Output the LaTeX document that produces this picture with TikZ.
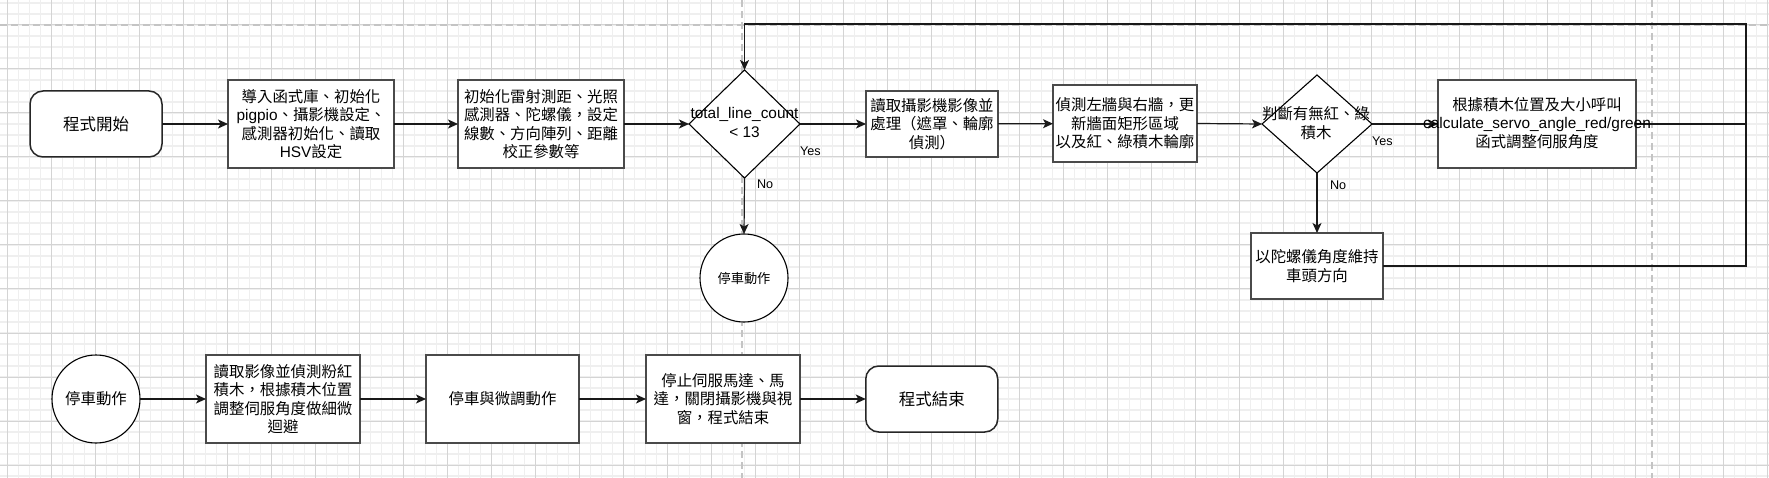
\documentclass[tikz,border=0pt]{standalone}
\usepackage{fontspec}
\setmainfont{Liberation Sans}
\newfontfamily\cjk{Noto Sans CJK TC}
\usetikzlibrary{shapes.geometric,arrows.meta}
\definecolor{gridminor}{HTML}{EFEFEF}
\definecolor{gridmajor}{HTML}{D4D4D4}
\definecolor{pagebreak}{HTML}{C4C4C4}
\definecolor{boxline}{HTML}{4A4A4A}
\tikzset{
  txt/.style={font=\fontsize{15.4}{18.5}\selectfont, align=center, inner sep=0pt, outer sep=0pt, text=black},
  bigtxt/.style={font=\fontsize{16.5}{19.8}\selectfont},
  smalltxt/.style={font=\fontsize{13.2}{15.8}\selectfont},
  procbox/.style={rectangle, draw=boxline, line width=1.5pt, fill=white, txt},
  termbox/.style={procbox, draw=black!85, rounded corners=13pt, bigtxt},
  decision/.style={diamond, draw=black, line width=1.1pt, fill=white, inner sep=0pt, outer sep=0pt},
  stopcircle/.style={circle, draw=black, line width=1.1pt, fill=white, minimum size=88pt, txt},
  flow/.style={draw=black!90, line width=1.2pt, -{Stealth[length=10pt,width=9pt,inset=2.5pt]}},
  plainflow/.style={draw=black!90, line width=1.2pt},
  lbl/.style={font=\fontsize{12.6}{15}\selectfont, inner sep=0pt, outer sep=0pt, anchor=west},
  gminor/.style={draw=gridminor, line width=1.2pt},
  gmajor/.style={draw=gridmajor, line width=1pt},
  pbreak/.style={draw=pagebreak, line width=2pt, dash pattern=on 7pt off 4pt},
}
\begin{document}
\begin{tikzpicture}[x=1pt,y=-1pt]
\fill[white] (0,0) rectangle (1769,478);
\useasboundingbox (0,0) rectangle (1769,478);
% grid
\foreach \i in {0,...,160} \draw[gminor] ({7.3+11*\i},0) -- ++(0,478);
\foreach \j in {0,...,43} \draw[gminor] (0,{3+11*\j}) -- ++(1769,0);
\foreach \i in {0,...,40} \draw[gmajor] ({7.3+44*\i},0) -- ++(0,478);
\foreach \j in {0,...,10} \draw[gmajor] (0,{25+44*\j}) -- ++(1769,0);
% page breaks
\draw[pbreak] (742,0) -- (742,478);
\draw[pbreak] (1652,0) -- (1652,478);
\draw[pbreak] (0,25) -- (1769,25);

% top row
\node[termbox, minimum width=132pt, minimum height=66pt] (b1) at (96,124) {\cjk 程式開始};
\node[procbox, minimum width=166pt, minimum height=88pt] (b2) at (311,124)
  {{\cjk 導入函式庫、初始化}\\pigpio{\cjk 、攝影機設定、}\\{\cjk 感測器初始化、讀取}\\HSV{\cjk 設定}};
\node[procbox, minimum width=166pt, minimum height=88pt] (b3) at (541,124)
  {{\cjk 初始化雷射測距、光照}\\{\cjk 感測器、陀螺儀，設定}\\{\cjk 線數、方向陣列、距離}\\{\cjk 校正參數等}};
\node[decision, minimum width=111pt, minimum height=108pt] (d1) at (744.5,124) {};
\node[procbox, minimum width=132pt, minimum height=66pt] (b5) at (932,124)
  {{\cjk 讀取攝影機影像並}\\{\cjk 處理（遮罩、輪廓}\\{\cjk 偵測）}};
\node[procbox, minimum width=144pt, minimum height=77pt] (b6) at (1125,123.5)
  {{\cjk 偵測左牆與右牆，更}\\{\cjk 新牆面矩形區域}\\{\cjk 以及紅、綠積木輪廓}};
\node[decision, minimum width=110pt, minimum height=98pt] (d2) at (1317,124) {};
\node[procbox, minimum width=198pt, minimum height=88pt] (b8) at (1537,124) {};
\node[procbox, minimum width=132pt, minimum height=66pt] (b9) at (1317,266)
  {{\cjk 以陀螺儀角度維持}\\{\cjk 車頭方向}};
\node[stopcircle, smalltxt] (c1) at (744,278) {\cjk 停車動作};

% bottom row
\node[stopcircle] (c2) at (96,399) {\cjk 停車動作};
\node[procbox, minimum width=154pt, minimum height=88pt] (b13) at (283,399)
  {{\cjk 讀取影像並偵測粉紅}\\{\cjk 積木，根據積木位置}\\{\cjk 調整伺服角度做細微}\\{\cjk 迴避}};
\node[procbox, minimum width=153pt, minimum height=88pt] (b14) at (502.5,399) {\cjk 停車與微調動作};
\node[procbox, minimum width=154pt, minimum height=88pt] (b15) at (723,399)
  {{\cjk 停止伺服馬達、馬}\\{\cjk 達，關閉攝影機與視}\\{\cjk 窗，程式結束}};
\node[termbox, minimum width=132pt, minimum height=66pt] (b16) at (931.75,399) {\cjk 程式結束};

% connectors
\coordinate (loopTR) at (1746,24);
\draw[flow] (b1) -- (b2);
\draw[flow] (b2) -- (b3);
\draw[flow] (b3.east) -- (d1.west);
\draw[flow] (d1.east) -- (b5.west);
\draw[flow] (b5) -- (b6);
\draw[flow] (b6.east) -- (d2.west);
\draw[flow] (d2.east) -- (b8.west);
\draw[flow] (d2.south) -- (b9.north);
\draw[flow] (d1.south) -- (c1.north);
\draw[flow] (b8.east) -| (loopTR) -- (loopTR -| d1.north) -- (d1.north);
\draw[plainflow] (b9.east) -| (b8.east -| loopTR);
\draw[flow] (c2) -- (b13);
\draw[flow] (b13) -- (b14);
\draw[flow] (b14) -- (b15);
\draw[flow] (b15) -- (b16);

% texts over shapes
\node[txt] (d1t) at (744.5,122.5) {total\_line\_count\\< 13};
\node[txt] (d2t) at (1316,123) {{\cjk 判斷有無紅、綠}\\{\cjk 積木}};
\node[txt] (b8t) at (1537,123) {{\cjk 根據積木位置及大小呼叫}\\calculate\_servo\_angle\_red/green\\{\cjk 函式調整伺服角度}};

% edge labels
\node[lbl] (y1) at (800,151) {Yes};
\node[lbl] (n1) at (757,184) {No};
\node[lbl] (y2) at (1372,141) {Yes};
\node[lbl] (n2) at (1330,185) {No};
\end{tikzpicture}
\end{document}
